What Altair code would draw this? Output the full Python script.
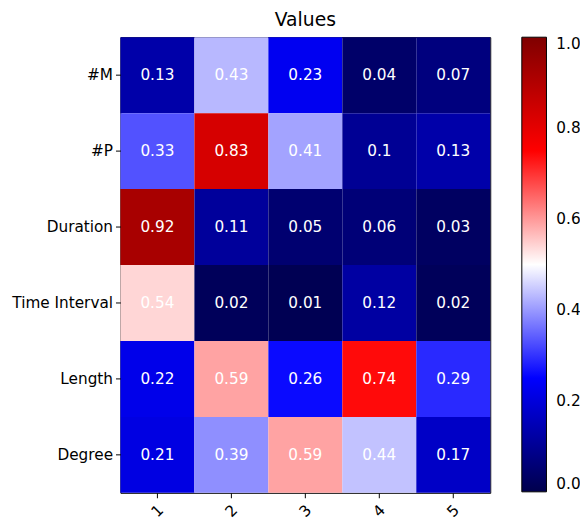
import altair as alt
import pandas as pd

rows = ["#M", "#P", "Duration", "Time Interval", "Length", "Degree"]
cols = ["1", "2", "3", "4", "5"]

m_vals = [0.13, 0.43, 0.23, 0.04, 0.07]
p_vals = [0.33, 0.83, 0.41, 0.1, 0.13]
duration_vals = [0.92, 0.11, 0.05, 0.06, 0.03]
interval_vals = [0.54, 0.02, 0.01, 0.12, 0.02]
length_vals = [0.22, 0.59, 0.26, 0.74, 0.29]
degree_vals = [0.21, 0.39, 0.59, 0.44, 0.17]

all_vals = [m_vals, p_vals, duration_vals, interval_vals, length_vals, degree_vals]

records = []
for r, vals in zip(rows, all_vals):
    for c, v in zip(cols, vals):
        records.append({"row": r, "col": c, "value": v, "label": str(v)})
df = pd.DataFrame(records)

FONT = "DejaVu Sans"
FS = 15.5

cscale = alt.Scale(
    domain=[0, 0.25, 0.5, 0.75, 1],
    range=["#00004c", "#0000ff", "#ffffff", "#ff0000", "#7f0000"],
    interpolate="rgb",
)

base = alt.Chart(df).encode(
    x=alt.X(
        "col:O",
        sort=cols,
        scale=alt.Scale(paddingInner=0, paddingOuter=0),
        axis=alt.Axis(
            title=None, labelAngle=-45, labelAlign="center", labelBaseline="middle",
            labelPadding=13, tickSize=5, tickColor="black", domain=False,
            labelFontSize=FS, labelFont=FONT, labelColor="black",
        ),
    ),
    y=alt.Y(
        "row:O",
        sort=rows,
        scale=alt.Scale(paddingInner=0, paddingOuter=0),
        axis=alt.Axis(
            title=None, labelPadding=3, tickSize=5, tickColor="black", domain=False,
            labelFontSize=FS, labelFont=FONT, labelColor="black",
        ),
    ),
)

rect = base.mark_rect().encode(
    color=alt.Color(
        "value:Q",
        scale=cscale,
        legend=alt.Legend(
            title=None, orient="none", legendX=407, legendY=0, direction="vertical",
            gradientLength=461, gradientThickness=25, gradientStrokeColor="black",
            gradientStrokeWidth=1, values=[0, 0.2, 0.4, 0.6, 0.8, 1.0], format=".1f",
            labelFontSize=FS, labelFont=FONT, labelColor="black", labelOffset=10,
            labelBaseline="middle", labelOverlap=False,
        ),
    ),
)

text = base.mark_text(color="white", fontSize=FS, font=FONT).encode(text="label:N")

chart = (rect + text).properties(
    width=375,
    height=462,
    title=alt.TitleParams("Values", fontSize=19, font=FONT, fontWeight="normal", color="black", offset=7),
    autosize=alt.AutoSizeParams(type="none"),
    padding={"left": 114, "top": 26, "right": 91, "bottom": 28},
).configure_view(stroke="black", strokeWidth=1)

chart.save("out.html", embed_options={"renderer": "svg", "actions": False})
